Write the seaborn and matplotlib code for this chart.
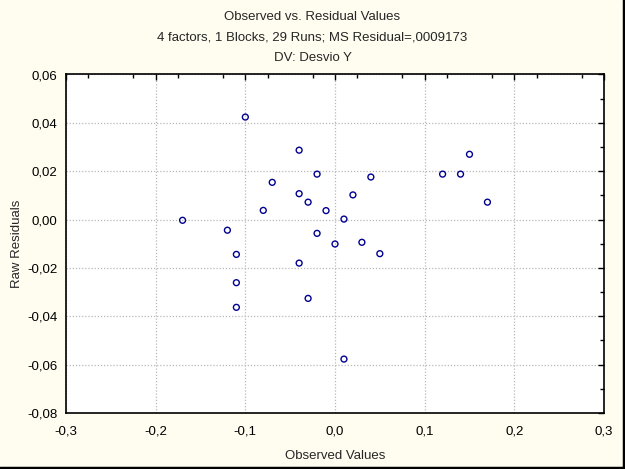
import matplotlib
matplotlib.use("Agg")
import matplotlib.pyplot as plt
import seaborn as sns
import pandas as pd
import numpy as np
from matplotlib.ticker import MultipleLocator, FixedLocator, FuncFormatter
from matplotlib.lines import Line2D

observed = [-0.10, -0.04, -0.02, -0.07, -0.04, -0.03, -0.08, -0.01, -0.17, -0.12,
            -0.02, -0.11, -0.04, -0.11, -0.03, -0.11, 0.15, 0.12, 0.14, 0.04,
            0.02, 0.01, 0.17, 0.00, 0.03, 0.05, 0.01]
residuals = [0.0424, 0.0287, 0.0188, 0.0154, 0.0107, 0.0072, 0.0038, 0.0037, -0.0003, -0.0044,
             -0.0057, -0.0144, -0.0180, -0.0261, -0.0326, -0.0363, 0.0270, 0.0188, 0.0188, 0.0176,
             0.0102, 0.0002, 0.0072, -0.0101, -0.0094, -0.0141, -0.0577]

title_lines = ["Observed vs. Residual Values",
               "4 factors, 1 Blocks, 29 Runs; MS Residual=,0009173",
               "DV: Desvio Y"]
x_label = "Observed Values"
y_label = "Raw Residuals"

df = pd.DataFrame({"obs": observed, "res": residuals})

sns.set_style("white")
plt.rcParams['font.family'] = ['Liberation Sans', 'DejaVu Sans']

bg = '#FFFCF0'
fig = plt.figure(figsize=(6.25, 4.69), dpi=100, facecolor=bg)
ax = fig.add_axes([66/625, 1-413/469, (604-66)/625, (413-74.5)/469])
ax.set_facecolor('white')

sns.scatterplot(data=df, x="obs", y="res", ax=ax, marker='o', s=18,
                facecolors='none', edgecolor='#000090', linewidth=1.0, zorder=3)

ax.set_xlim(-0.3, 0.3)
ax.set_ylim(-0.08, 0.06)
ax.xaxis.set_major_locator(MultipleLocator(0.1))
ax.yaxis.set_major_locator(MultipleLocator(0.02))
ax.xaxis.set_minor_locator(FixedLocator(np.arange(-0.275, 0.3, 0.05)))
ax.yaxis.set_minor_locator(FixedLocator(np.arange(-0.07, 0.06, 0.02)))
ax.xaxis.set_major_formatter(FuncFormatter(lambda v, p: f"{v:.1f}".replace('.', ',').replace('-0,0', '0,0')))
ax.yaxis.set_major_formatter(FuncFormatter(lambda v, p: f"{v:.2f}".replace('.', ',').replace('-0,00', '0,00')))

ax.grid(True, which='major', color='#B8B8B8', linestyle=(0, (1, 1.5)), linewidth=0.9)
ax.tick_params(which='both', direction='in', top=True, right=True, labelsize=9.5, colors='black')
ax.tick_params(which='major', length=4, width=1)
ax.tick_params(which='minor', length=3, width=1)
ax.tick_params(axis='x', which='major', pad=9)
ax.tick_params(axis='y', which='major', pad=6)
for s in ax.spines.values():
    s.set_color('black')
    s.set_linewidth(1.2)

ax.set_xlabel(x_label, fontsize=9.5, labelpad=9)
ax.set_ylabel(y_label, fontsize=9.5, labelpad=3)

fig.text(0.5, 1-17/469, title_lines[0], ha='center', va='center', fontsize=9.5)
fig.text(0.5, 1-38/469, title_lines[1], ha='center', va='center', fontsize=9.5)
fig.text(0.5, 1-58/469, title_lines[2], ha='center', va='center', fontsize=9.5)

# dark frame on right and bottom edges
fig.add_artist(Line2D([0, 1], [0.002, 0.002], transform=fig.transFigure, color='black', linewidth=2.5))
fig.add_artist(Line2D([0.998, 0.998], [0, 1], transform=fig.transFigure, color='black', linewidth=2.5))

fig.savefig("out.png", dpi=100, facecolor=bg)
